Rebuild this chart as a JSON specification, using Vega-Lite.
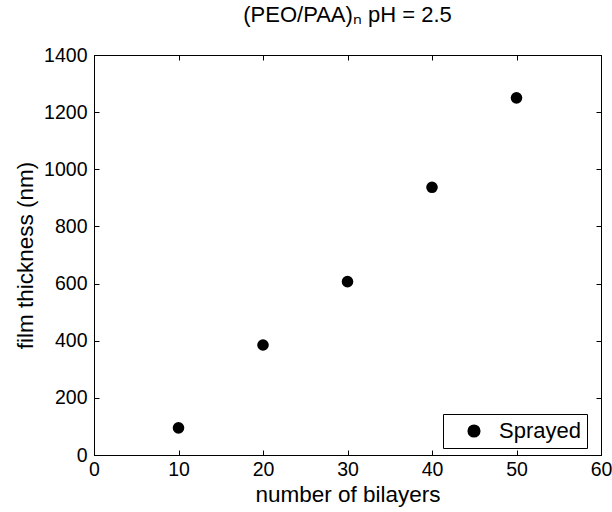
{
  "$schema": "https://vega.github.io/schema/vega-lite/v6.json",
  "width": 507,
  "height": 400,
  "autosize": {"type": "none"},
  "padding": {"left": 94, "top": 55, "right": 11, "bottom": 57},
  "background": "white",
  "config": {
    "font": "Liberation Sans",
    "view": {"stroke": "black", "strokeWidth": 1},
    "axis": {"grid": false, "domainColor": "black", "tickColor": "black", "labelColor": "black", "titleColor": "black", "labelFont": "Liberation Sans", "titleFont": "Liberation Sans", "labelFontSize": 19.5, "titleFontSize": 22.5, "titleFontWeight": "normal", "labelFlush": false, "labelOverlap": false}
  },
  "title": {"text": "(PEO/PAA)ₙ pH = 2.5", "font": "Liberation Sans", "fontSize": 22, "fontWeight": "normal", "color": "black", "offset": 18},
  "data": {"values": [
    {"bilayers": 10, "thickness": 95, "series": "Sprayed"},
    {"bilayers": 20, "thickness": 385, "series": "Sprayed"},
    {"bilayers": 30, "thickness": 607, "series": "Sprayed"},
    {"bilayers": 40, "thickness": 937, "series": "Sprayed"},
    {"bilayers": 50, "thickness": 1250, "series": "Sprayed"}
  ]},
  "layer": [
    {
      "mark": {"type": "point", "filled": true, "opacity": 1, "size": 135},
      "encoding": {
        "x": {"field": "bilayers", "type": "quantitative", "scale": {"domain": [0, 60], "nice": false}, "axis": {"orient": "bottom", "title": "number of bilayers", "format": "d", "values": [0,10,20,30,40,50,60], "tickSize": -5, "labelPadding": 10, "titlePadding": 5}},
        "y": {"field": "thickness", "type": "quantitative", "scale": {"domain": [0, 1400], "nice": false}, "axis": {"orient": "left", "title": "film thickness (nm)", "format": "d", "values": [0,200,400,600,800,1000,1200,1400], "tickSize": -5, "labelPadding": 12, "titlePadding": 6}},
        "color": {"field": "series", "type": "nominal", "scale": {"range": ["black"]}, "legend": {"title": null, "orient": "none", "legendX": 349, "legendY": 359, "strokeColor": "black", "fillColor": "white", "padding": 6, "labelFontSize": 22, "labelFont": "Liberation Sans", "labelColor": "black", "symbolSize": 135, "symbolType": "circle", "symbolFillColor": "black", "symbolStrokeColor": "black", "symbolOffset": 14, "labelOffset": 14, "rowPadding": 0, "offset": 0}},
        "shape": {"field": "series", "type": "nominal", "scale": {"range": ["circle"]}, "legend": null}
      }
    },
    {
      "mark": {"type": "point", "filled": true, "opacity": 0},
      "encoding": {
        "x": {"field": "bilayers", "type": "quantitative", "scale": {"domain": [0, 60], "nice": false}, "axis": {"orient": "top", "title": null, "labels": false, "values": [0,10,20,30,40,50,60], "tickSize": -5}},
        "y": {"field": "thickness", "type": "quantitative", "scale": {"domain": [0, 1400], "nice": false}, "axis": {"orient": "right", "title": null, "labels": false, "values": [0,200,400,600,800,1000,1200,1400], "tickSize": -5}}
      }
    }
  ],
  "resolve": {"axis": {"x": "independent", "y": "independent"}}
}
